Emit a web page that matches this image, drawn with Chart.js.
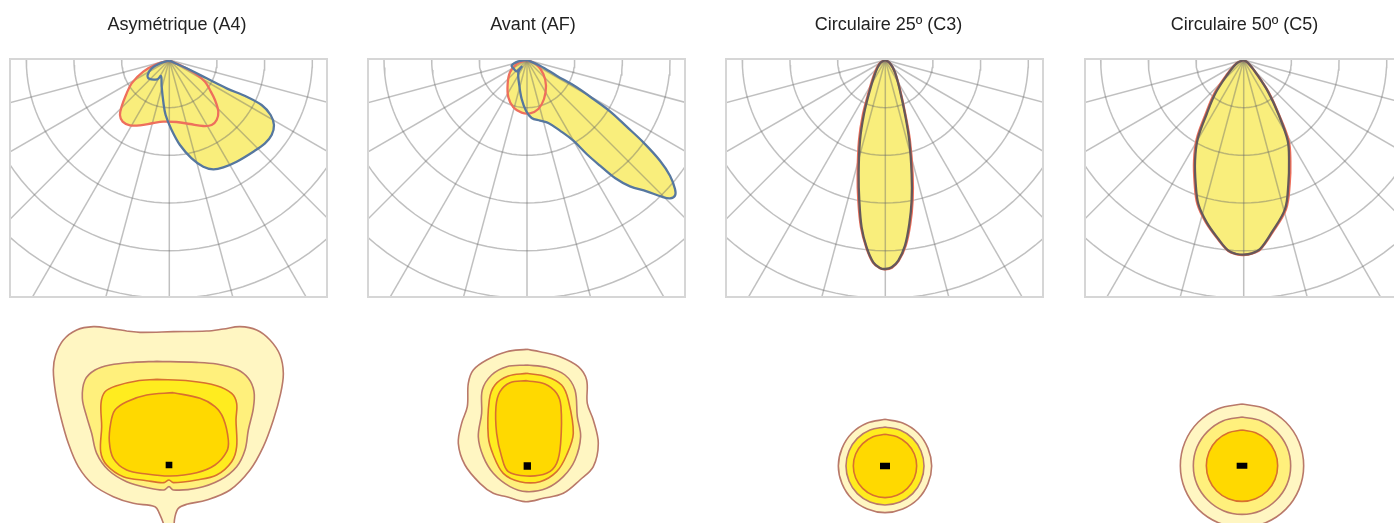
<!DOCTYPE html>
<html>
<head>
<meta charset="utf-8">
<title>Distributions photométriques</title>
<script src="https://cdn.jsdelivr.net/npm/chart.js@4"></script>
<style>
  html, body { margin: 0; padding: 0; background: #fff; overflow: hidden; }
  #page { position: relative; width: 1394px; height: 523px; overflow: hidden; }
  #page canvas { position: absolute; }
</style>
</head>
<body>
<div id="page"></div>
<script>
// Distribution names
const titles = ['Asymétrique (A4)', 'Avant (AF)', 'Circulaire 25º (C3)', 'Circulaire 50º (C5)'];

// Polar grid: ring intensities and spoke angles from nadir
const ringValues = [143, 286, 429, 572, 715];
const spokeAngles = [-75, -60, -45, -30, -15, 0, 15, 30, 45, 60, 75];

// Polar curves (horizontal offset, depth from the lamp)
const a4RedX = [0, -38, -78, -113, -130, -143, -148, -140, -118, -88, -48, -18, 22, 62, 102, 127, 142, 147, 137, 122, 107, 77, 42, 0];
const a4RedY = [2, 12, 35, 70, 105, 140, 165, 185, 196, 196, 189, 185, 186, 192, 198, 195, 180, 155, 120, 90, 65, 40, 20, 2];
const a4BlueX = [0, 52, 112, 172, 232, 277, 304, 314, 307, 287, 252, 202, 162, 132, 102, 67, 32, 7, -11, -18, -23, -25, -36, -61, -65, -53, -28, 0];
const a4BlueY = [2, 25, 55, 85, 110, 135, 165, 195, 225, 250, 275, 305, 322, 328, 320, 295, 255, 210, 165, 125, 80, 48, 58, 56, 45, 25, 10, 2];

const afRedX = [0, -31, -51, -58, -56, -41, -16, 9, 34, 51, 57, 49, 29, 0];
const afRedY = [0, 12, 37, 72, 112, 142, 158, 160, 147, 117, 77, 42, 14, 0];
const afBlueX = [0, 39, 89, 149, 199, 249, 299, 349, 399, 429, 444, 444, 429, 404, 359, 309, 264, 219, 179, 139, 99, 64, 39, 14, -3, -16, -23, -26, -16, -31, -39, -46, -26, 0];
const afBlueY = [0, 17, 47, 82, 117, 154, 200, 247, 302, 347, 387, 407, 415, 410, 394, 379, 354, 317, 282, 242, 212, 189, 182, 174, 152, 117, 77, 37, 20, 34, 27, 17, 4, 0];

const c3RedX = [0, -17, -33, -50, -67, -79, -83, -81, -73, -57, -37, -16, 0, 20, 40, 61, 75, 82, 82, 74, 60, 45, 29, 14, 0];
const c3RedY = [0, 10, 42, 97, 162, 242, 342, 422, 502, 563, 608, 625, 628, 623, 603, 558, 492, 422, 342, 242, 162, 92, 37, 10, 0];
const c3BlueX = [0, -16, -31, -48, -64, -76, -80, -78, -71, -56, -36, -16, 0, 19, 39, 59, 72, 79, 79, 72, 59, 44, 29, 14, 0];
const c3BlueY = [0, 10, 42, 97, 162, 242, 342, 422, 502, 562, 607, 624, 627, 622, 602, 557, 492, 422, 342, 242, 162, 92, 37, 10, 0];

const c5RedX = [0, -22, -53, -89, -114, -141, -149, -147, -139, -113, -77, -46, -21, 0, 24, 50, 86, 127, 138, 140, 135, 105, 75, 39, 14, 0];
const c5RedY = [0, 10, 47, 102, 162, 237, 302, 372, 432, 488, 538, 573, 583, 585, 581, 568, 518, 447, 372, 302, 242, 162, 97, 42, 10, 0];
const c5BlueX = [0, -21, -51, -86, -111, -138, -146, -144, -136, -111, -76, -46, -21, 0, 24, 49, 84, 124, 134, 136, 132, 104, 74, 39, 14, 0];
const c5BlueY = [0, 10, 47, 102, 162, 237, 302, 372, 432, 487, 537, 572, 582, 584, 580, 567, 517, 447, 372, 302, 242, 162, 97, 42, 10, 0];

// Isolux contours, offset from the lamp, outer line first
const a4Iso1X = [-127, -177, -227, -277, -317, -340, -347, -340, -325, -302, -272, -227, -167, -107, -42, -29, -15, -9, 10, 18, 28, 53, 113, 183, 243, 283, 313, 335, 343, 333, 303, 263, 213, 163, 113, 13, -87, -127];
const a4Iso1Y = [-402, -410, -415, -405, -375, -330, -285, -215, -145, -65, 5, 60, 95, 115, 125, 145, 180, 205, 205, 155, 130, 118, 105, 75, 15, -55, -135, -215, -275, -330, -375, -405, -415, -408, -402, -400, -398, -402];
const a4Iso2X = [-37, -107, -177, -222, -252, -260, -247, -232, -217, -182, -127, -57, -15, 0, 13, 83, 153, 203, 228, 238, 253, 255, 238, 203, 143, 83, -37];
const a4Iso2Y = [-311, -308, -300, -285, -255, -200, -145, -95, -35, 15, 50, 70, 75, 65, 75, 70, 45, 5, -45, -105, -170, -220, -260, -287, -303, -308, -311];
const a4Iso3X = [-37, -97, -157, -192, -204, -202, -205, -187, -137, -67, -17, 0, 13, 83, 143, 188, 203, 201, 203, 188, 143, 63, -37];
const a4Iso3Y = [-257, -252, -238, -220, -185, -115, -40, 0, 35, 47, 53, 45, 53, 45, 30, -10, -55, -135, -185, -215, -238, -252, -257];
const a4Iso4X = [13, -67, -127, -162, -175, -179, -167, -127, -67, 3, 83, 138, 173, 178, 163, 138, 93, 13];
const a4Iso4Y = [-217, -210, -190, -165, -125, -70, -20, 15, 27, 33, 23, 0, -40, -75, -140, -175, -200, -217];

const afIso1X = [-2, -62, -122, -162, -177, -180, -197, -207, -187, -142, -102, -62, -7, 48, 108, 158, 198, 213, 198, 180, 178, 153, 98, 38, -2];
const afIso1Y = [-350, -343, -318, -288, -248, -178, -128, -68, -3, 52, 82, 92, 107, 97, 82, 42, 2, -68, -138, -188, -258, -298, -328, -343, -350];
const afIso2X = [-2, -62, -107, -135, -137, -147, -132, -102, -52, -2, 58, 108, 143, 160, 150, 143, 113, 58, -2];
const afIso2Y = [-303, -298, -273, -228, -158, -88, -28, 22, 62, 77, 67, 32, -18, -88, -148, -228, -273, -296, -303];
const afIso3X = [-2, -57, -97, -114, -117, -102, -72, -22, 38, 88, 118, 138, 123, 103, 58, -2];
const afIso3Y = [-278, -270, -243, -198, -88, -33, 22, 47, 47, 17, -33, -98, -198, -243, -268, -278];
const afIso4X = [-2, -52, -82, -94, -92, -77, -57, -2, 58, 88, 100, 101, 88, 53, -2];
const afIso4Y = [-256, -250, -223, -178, -98, -28, 17, 30, 22, -8, -68, -178, -218, -246, -256];

const c3Iso1X = [0, 53, 99, 129, 140, 129, 99, 53, 0, -53, -99, -129, -140, -129, -99, -53, 0];
const c3Iso1Y = [-140, -129, -99, -53, 0, 53, 99, 129, 140, 129, 99, 53, 0, -53, -99, -129, -140];
const c3Iso2X = [0, 45, 83, 108, 117, 108, 83, 45, 0, -45, -83, -108, -117, -108, -83, -45, 0];
const c3Iso2Y = [-117, -108, -83, -45, 0, 45, 83, 108, 117, 108, 83, 45, 0, -45, -83, -108, -117];
const c3Iso3X = [0, 36, 67, 88, 95, 88, 67, 36, 0, -36, -67, -88, -95, -88, -67, -36, 0];
const c3Iso3Y = [-95, -88, -67, -36, 0, 36, 67, 88, 95, 88, 67, 36, 0, -36, -67, -88, -95];

const c5Iso1X = [0, 71, 131, 171, 185, 171, 131, 71, 0, -71, -131, -171, -185, -171, -131, -71, 0];
const c5Iso1Y = [-185, -171, -131, -71, 0, 71, 131, 171, 185, 171, 131, 71, 0, -71, -131, -171, -185];
const c5Iso2X = [0, 56, 103, 135, 146, 135, 103, 56, 0, -56, -103, -135, -146, -135, -103, -56, 0];
const c5Iso2Y = [-146, -135, -103, -56, 0, 56, 103, 135, 146, 135, 103, 56, 0, -56, -103, -135, -146];
const c5Iso3X = [0, 41, 76, 99, 107, 99, 76, 41, 0, -41, -76, -99, -107, -99, -76, -41, 0];
const c5Iso3Y = [-107, -99, -76, -41, 0, 41, 76, 99, 107, 99, 76, 41, 0, -41, -76, -99, -107];

// Lamp half size, same units
const lampHalfW = [10, 11, 15, 16];
const lampHalfH = [10, 11, 10, 9];

const UNITS_PER_PX = 3;
const page = document.getElementById('page');

function zip(xs, ys) {
    return xs.map((x, i) => ({ x: x, y: ys[i] }));
}

function addCanvas(left, top, width, height) {
    const canvas = document.createElement('canvas');
    canvas.style.left = left + 'px';
    canvas.style.top = top + 'px';
    canvas.style.width = width + 'px';
    canvas.style.height = height + 'px';
    canvas.width = width;
    canvas.height = height;
    page.appendChild(canvas);
    return canvas;
}

function outline(points, color, clip) {
    return { data: points, showLine: true, fill: false, borderColor: color, borderWidth: 2.3, pointRadius: 0, tension: 0.35, clip: clip };
}

function blob(points, clip) {
    return { data: points, showLine: true, fill: 'shape', backgroundColor: '#f9ee7c', borderWidth: 0, pointRadius: 0, tension: 0.35, clip: clip };
}

// Rings and spokes as light lines over the fill
function gridSets(clip) {
    const sets = [];
    const color = 'rgba(105, 105, 105, 0.42)';
    ringValues.forEach(r => {
        const pts = [];
        for (let a = -90; a <= 90; a += 3) {
            const t = a * Math.PI / 180;
            pts.push({ x: r * Math.sin(t), y: r * Math.cos(t) });
        }
        sets.push({ data: pts, showLine: true, fill: false, borderColor: color, borderWidth: 1.5, pointRadius: 0, clip: clip });
    });
    spokeAngles.forEach(a => {
        const t = a * Math.PI / 180;
        sets.push({ data: [{ x: 0, y: 0 }, { x: 1000 * Math.sin(t), y: 1000 * Math.cos(t) }], showLine: true, fill: false, borderColor: color, borderWidth: 1.5, pointRadius: 0, clip: clip });
    });
    return sets;
}

// Box round the polar plot
const frame = {
    id: 'frame',
    afterDatasetsDraw(chart, args, opts) {
        const { ctx, chartArea: a } = chart;
        ctx.save();
        ctx.strokeStyle = '#d6d6d6';
        ctx.lineWidth = 2;
        ctx.strokeRect(a.left + opts.left, a.top, a.right - a.left - opts.left - opts.right, a.bottom - a.top - opts.bottom);
        ctx.restore();
    }
};

// Slight softening, the source picture is an upscaled bitmap
const soften = {
    id: 'soften',
    beforeDatasetsDraw(chart) { chart.ctx.filter = 'blur(0.7px)'; },
    afterDatasetsDraw(chart) { chart.ctx.filter = 'none'; }
};

function axes(xMin, xMax, yMin, yMax) {
    return {
        x: { type: 'linear', display: false, min: xMin, max: xMax },
        y: { type: 'linear', display: false, min: yMin, max: yMax, reverse: true }
    };
}

function polarChart(i, canvasLeft, canvasWidth, boxLeft, boxRight, apexX, curves) {
    const boxTop = 59, boxBottom = 297, apexY = 60, canvasHeight = 300;
    const canvas = addCanvas(canvasLeft, 0, canvasWidth, canvasHeight);
    const inset = { left: boxLeft - canvasLeft, right: canvasLeft + canvasWidth - boxRight, top: 0, bottom: canvasHeight - boxBottom };
    const clip = { left: -inset.left, right: -inset.right, top: 0, bottom: -inset.bottom };
    const datasets = [];
    curves.forEach(c => datasets.push(blob(c.points, clip)));
    gridSets(clip).forEach(s => datasets.push(s));
    curves.forEach(c => datasets.push(outline(c.points, c.color, clip)));
    datasets.forEach((d, n) => { d.order = datasets.length - n; });

    new Chart(canvas, {
        type: 'scatter',
        data: { datasets: datasets },
        options: {
            responsive: false,
            animation: false,
            layout: { padding: 0 },
            scales: axes((canvasLeft - apexX) * UNITS_PER_PX, (canvasLeft + canvasWidth - apexX) * UNITS_PER_PX, (boxTop - apexY) * UNITS_PER_PX, (canvasHeight - apexY) * UNITS_PER_PX),
            plugins: {
                legend: { display: false },
                tooltip: { enabled: false },
                frame: inset,
                title: {
                    display: true,
                    text: titles[i],
                    color: '#222222',
                    font: { family: '"Liberation Sans", Arial, sans-serif', size: 18, weight: 'normal', lineHeight: 1.2 },
                    padding: { top: 14, bottom: 23.4 }
                }
            }
        },
        plugins: [soften, frame]
    });
}

function isoChart(i, left, width, lampX, lampY, contours) {
    const top = 300, height = 223;
    const canvas = addCanvas(left, top, width, height);
    const datasets = contours.map(c => ({
        data: c.points, showLine: true, fill: 'shape', backgroundColor: c.fill,
        borderColor: c.line, borderWidth: 1.6, pointRadius: 0, tension: 0.35
    }));
    const w = lampHalfW[i], h = lampHalfH[i];
    datasets.push({
        data: zip([-w, w, w, -w, -w], [-h, -h, h, h, -h]), showLine: true, fill: 'shape',
        backgroundColor: '#000', borderWidth: 0, pointRadius: 0
    });
    datasets.forEach((d, n) => { d.order = datasets.length - n; });

    new Chart(canvas, {
        type: 'scatter',
        data: { datasets: datasets },
        options: {
            responsive: false,
            animation: false,
            layout: { padding: 0 },
            scales: axes((left - lampX) * UNITS_PER_PX, (left + width - lampX) * UNITS_PER_PX, (top - lampY) * UNITS_PER_PX, (top + height - lampY) * UNITS_PER_PX),
            plugins: { legend: { display: false }, tooltip: { enabled: false } }
        },
        plugins: [soften]
    });
}

const RED = '#ee6f5c', BLUE = '#56779f', DARK = '#65585a';
const PALE = '#fff6c2', MID = '#fff07c', BRIGHT = '#ffec1f', GOLD = '#ffd900';
const LINE_OUT = '#b9796a', LINE_IN = '#d8702f';

polarChart(0, 0, 354, 10, 327, 169.3, [
    { points: zip(a4RedX, a4RedY), color: RED },
    { points: zip(a4BlueX, a4BlueY), color: BLUE }
]);
polarChart(1, 354, 358, 368, 685, 527, [
    { points: zip(afRedX, afRedY), color: RED },
    { points: zip(afBlueX, afBlueY), color: BLUE }
]);
polarChart(2, 712, 353, 726, 1043, 885.3, [
    { points: zip(c3RedX, c3RedY), color: RED },
    { points: zip(c3BlueX, c3BlueY), color: DARK }
]);
polarChart(3, 1075, 339, 1085, 1402, 1243.7, [
    { points: zip(c5RedX, c5RedY), color: RED },
    { points: zip(c5BlueX, c5BlueY), color: DARK }
]);

isoChart(0, 0, 354, 169, 465, [
    { points: zip(a4Iso1X, a4Iso1Y), fill: PALE, line: LINE_OUT },
    { points: zip(a4Iso2X, a4Iso2Y), fill: MID, line: LINE_OUT },
    { points: zip(a4Iso3X, a4Iso3Y), fill: BRIGHT, line: LINE_IN },
    { points: zip(a4Iso4X, a4Iso4Y), fill: GOLD, line: LINE_IN }
]);
isoChart(1, 354, 358, 527.3, 466, [
    { points: zip(afIso1X, afIso1Y), fill: PALE, line: LINE_OUT },
    { points: zip(afIso2X, afIso2Y), fill: MID, line: LINE_OUT },
    { points: zip(afIso3X, afIso3Y), fill: BRIGHT, line: LINE_IN },
    { points: zip(afIso4X, afIso4Y), fill: GOLD, line: LINE_IN }
]);
isoChart(2, 712, 353, 885, 466, [
    { points: zip(c3Iso1X, c3Iso1Y), fill: PALE, line: LINE_OUT },
    { points: zip(c3Iso2X, c3Iso2Y), fill: BRIGHT, line: LINE_OUT },
    { points: zip(c3Iso3X, c3Iso3Y), fill: GOLD, line: LINE_IN }
]);
isoChart(3, 1075, 339, 1242, 465.7, [
    { points: zip(c5Iso1X, c5Iso1Y), fill: PALE, line: LINE_OUT },
    { points: zip(c5Iso2X, c5Iso2Y), fill: MID, line: LINE_OUT },
    { points: zip(c5Iso3X, c5Iso3Y), fill: GOLD, line: LINE_IN }
]);
</script>
</body>
</html>
